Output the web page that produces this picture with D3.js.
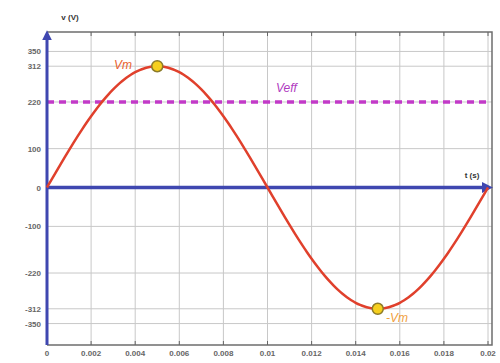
<!DOCTYPE html>
<html>
<head>
<meta charset="utf-8">
<script src="https://cdn.jsdelivr.net/npm/d3@7"></script>
<style>
  body { margin: 0; background: #fff; }
  svg { display: block; font-family: "Liberation Sans", Arial, sans-serif; }
</style>
</head>
<body>
<svg id="chart" width="500" height="363"></svg>
<script>
// data
const xTicks = [0, 0.002, 0.004, 0.006, 0.008, 0.01, 0.012, 0.014, 0.016, 0.018, 0.02]
const yTicks = [350, 312, 220, 100, 0, -100, -220, -312, -350]
const vm = 312
const veff = 220
const freq = 50
// sampled time points of the wave
const tSamples = d3.range(0, 0.0201, 0.0002)
const peaks = [{t: 0.005, v: 312, label: "Vm"}, {t: 0.015, v: -312, label: "-Vm"}]

const svg = d3.select("#chart")
const pLeft = 47, pRight = 492, pTop = 32, pBottom = 345

const x = d3.scaleLinear().domain([0, 0.02]).range([pLeft, 488])
const y = d3.scaleLinear().domain([-400, 400]).range([343, pTop])

// grid
svg.append("g").selectAll("line").data(xTicks.slice(1)).join("line")
  .attr("x1", d => x(d)).attr("x2", d => x(d))
  .attr("y1", pTop).attr("y2", pBottom)
  .attr("stroke", "#c8c8c8").attr("stroke-width", 1)
svg.append("g").selectAll("line").data(yTicks).join("line")
  .attr("x1", pLeft).attr("x2", pRight)
  .attr("y1", d => y(d)).attr("y2", d => y(d))
  .attr("stroke", "#c8c8c8").attr("stroke-width", 1)

// frame
svg.append("path")
  .attr("d", `M${pLeft},${pTop}H${pRight}V${pBottom}H${pLeft}`)
  .attr("fill", "none").attr("stroke", "#6e6e6e").attr("stroke-width", 1.5)

// small ticks on top and bottom
svg.append("g").selectAll("line").data(xTicks.slice(1)).join("line")
  .attr("x1", d => x(d)).attr("x2", d => x(d))
  .attr("y1", pTop).attr("y2", pTop + 4).attr("stroke", "#666")
svg.append("g").selectAll("line").data(xTicks.slice(1)).join("line")
  .attr("x1", d => x(d)).attr("x2", d => x(d))
  .attr("y1", pBottom).attr("y2", pBottom - 4).attr("stroke", "#666")

// tick labels
svg.append("g").selectAll("text").data(yTicks).join("text")
  .attr("x", pLeft - 6).attr("y", d => y(d) + 3)
  .attr("text-anchor", "end").attr("font-size", 8).attr("font-weight", "bold").attr("fill", "#666")
  .text(d => d)
svg.append("g").selectAll("text").data(xTicks).join("text")
  .attr("x", d => x(d)).attr("y", 356)
  .attr("text-anchor", "middle").attr("font-size", 8).attr("font-weight", "bold").attr("fill", "#666")
  .text(d => d)

// Veff dashed line
svg.append("line")
  .attr("x1", pLeft).attr("x2", pRight - 2)
  .attr("y1", y(veff)).attr("y2", y(veff))
  .attr("stroke", "#c23ac8").attr("stroke-width", 3.5)
  .attr("stroke-dasharray", "7,5")

// axes with arrows
svg.append("defs").append("marker")
  .attr("id", "arr").attr("viewBox", "0 0 10 10")
  .attr("refX", 2).attr("refY", 5)
  .attr("markerWidth", 3.2).attr("markerHeight", 3.2)
  .attr("orient", "auto")
  .append("path").attr("d", "M0,0L10,5L0,10Z").attr("fill", "#3f47b0")
svg.append("line")
  .attr("x1", pLeft).attr("x2", pLeft).attr("y1", pBottom).attr("y2", 38)
  .attr("stroke", "#3f47b0").attr("stroke-width", 3)
  .attr("marker-end", "url(#arr)")
svg.append("line")
  .attr("x1", pLeft).attr("x2", 484).attr("y1", y(0)).attr("y2", y(0))
  .attr("stroke", "#3f47b0").attr("stroke-width", 3.5)
  .attr("marker-end", "url(#arr)")

// sine wave
const line = d3.line()
  .x(d => x(d))
  .y(d => y(vm * Math.sin(2 * Math.PI * freq * d)))
  .curve(d3.curveBasis)
svg.append("path").datum(tSamples)
  .attr("d", line)
  .attr("fill", "none").attr("stroke", "#e0402c").attr("stroke-width", 2.5)

// peak markers
svg.append("g").selectAll("circle").data(peaks).join("circle")
  .attr("cx", d => x(d.t)).attr("cy", d => y(d.v)).attr("r", 5.5)
  .attr("fill", "#f6cf1e").attr("stroke", "#8c7b2a").attr("stroke-width", 1.5)

// labels
svg.append("text").attr("x", 114).attr("y", 69)
  .attr("font-size", 12).attr("font-style", "italic").attr("fill", "#e8602e")
  .text(peaks[0].label)
svg.append("text").attr("x", 386).attr("y", 322)
  .attr("font-size", 12).attr("font-style", "italic").attr("fill", "#f0a040")
  .text(peaks[1].label)
svg.append("text").attr("x", 276).attr("y", 92)
  .attr("font-size", 12).attr("font-style", "italic").attr("fill", "#b03ac0")
  .text("Veff")
svg.append("text").attr("x", 70).attr("y", 20)
  .attr("text-anchor", "middle").attr("font-size", 8).attr("font-weight", "bold").attr("fill", "#333")
  .text("v (V)")
svg.append("text").attr("x", 472).attr("y", 178)
  .attr("text-anchor", "middle").attr("font-size", 8).attr("font-weight", "bold").attr("fill", "#333")
  .text("t (s)")
</script>
</body>
</html>
